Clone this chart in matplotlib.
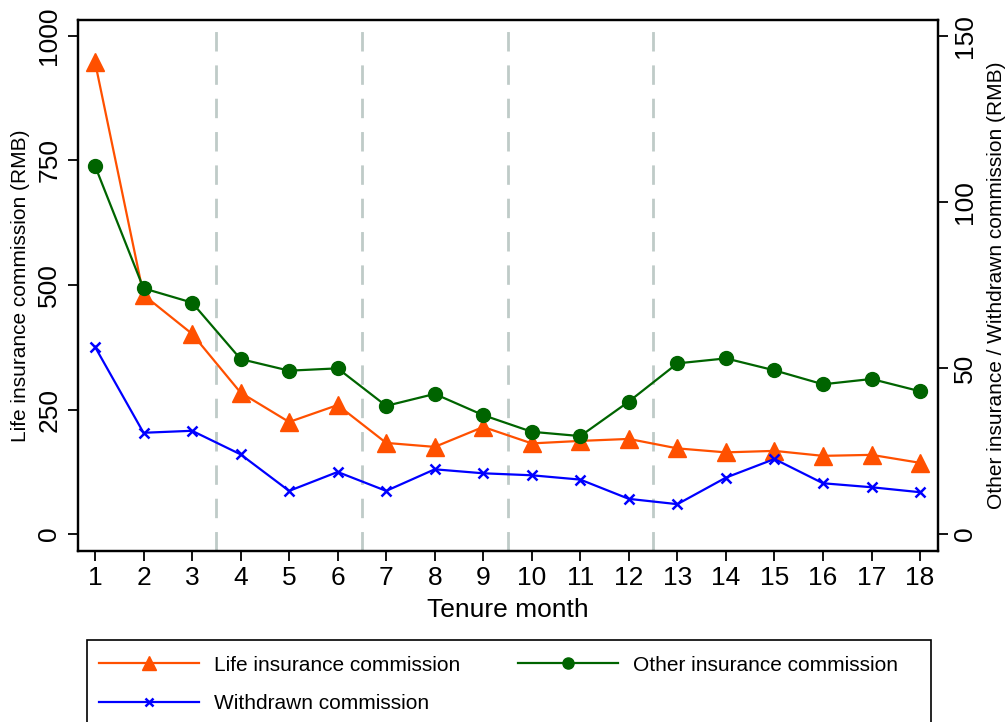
import matplotlib
matplotlib.use("Agg")
import matplotlib.pyplot as plt
from matplotlib.patches import Rectangle

plt.rcParams['font.family'] = ['Liberation Sans', 'DejaVu Sans']

# Tenure months on the x axis
months = list(range(1, 19))

# Life insurance commission (left axis, RMB)
life = [948, 480, 402, 284, 225, 259, 183, 175, 215, 182, 187, 191,
        172, 164, 167, 157, 159, 143]

# Other insurance commission (right axis, RMB)
other = [110.9, 74.0, 69.7, 52.7, 49.2, 49.9, 38.6, 42.2, 35.8, 30.8, 29.5, 39.9,
         51.4, 52.9, 49.3, 45.1, 46.7, 43.0]

# Withdrawn commission (right axis, RMB)
withdrawn = [56.4, 30.5, 31.1, 24.0, 13.0, 18.7, 13.0, 19.5, 18.3, 17.7, 16.4, 10.6,
             9.0, 17.0, 22.6, 15.3, 14.1, 12.6]

# quarter breaks
breaks = [3.5, 6.5, 9.5, 12.5]

left_ticks = [0, 250, 500, 750, 1000]
right_ticks = [0, 50, 100, 150]

fig = plt.figure(figsize=(10.07, 7.22), dpi=100)
ax = fig.add_axes([78 / 1007, 1 - 551 / 722, (938 - 78) / 1007, (551 - 20) / 722])
ax2 = ax.twinx()

for b in breaks:
    ax.axvline(b, color='#bfcbc8', lw=2, ls=(0, (7, 5)), zorder=1)

l1, = ax.plot(months, life, color='#ff5000', lw=1.6, marker='^', ms=13,
              label='Life insurance commission', zorder=3)
l2, = ax2.plot(months, other, color='#006400', lw=1.6, marker='o', ms=10,
               label='Other insurance commission', zorder=3)
l3, = ax2.plot(months, withdrawn, color='#0000ff', lw=1.6, marker='x', ms=7,
               mew=1.8, label='Withdrawn commission', zorder=3)

ax.set_xlim(0.65, 18.37)
ax.set_ylim(-34, 1032)
ax2.set_ylim(-34 * 0.15, 1032 * 0.15)
ax.set_xticks(months)
ax.set_yticks(left_ticks)
ax2.set_yticks(right_ticks)

for a in (ax, ax2):
    for s in a.spines.values():
        s.set_linewidth(1.6)
    a.tick_params(axis='both', direction='out', length=7, width=1.3, labelsize=19)
ax.tick_params(axis='y', labelrotation=90, pad=5)
ax2.tick_params(axis='y', labelrotation=90, pad=4)
for t in ax.get_yticklabels() + ax2.get_yticklabels():
    t.set_va('center')

ax.set_xlabel('Tenure month', fontsize=19, labelpad=6)
ax.set_ylabel('Life insurance commission (RMB)', fontsize=15, labelpad=5)
ax2.set_ylabel('Other insurance / Withdrawn commission (RMB)', fontsize=15, labelpad=7)

# legend box runs off the bottom edge like the original
fig.patches.append(Rectangle((87 / 1007, 1 - 760 / 722), 844 / 1007, 120 / 722,
                             transform=fig.transFigure, fill=False,
                             edgecolor='black', lw=1.2))
leg = fig.legend(handles=[l1, l3, l2], ncol=2, loc='upper left',
                 bbox_to_anchor=(83 / 1007, 1 - 640 / 722),
                 fontsize=15, frameon=False, handlelength=4.8, handletextpad=0.75,
                 columnspacing=2.75, markerscale=0.8, borderpad=0.75,
                 labelspacing=0.95, borderaxespad=0)

fig.savefig('out.png', dpi=100)
